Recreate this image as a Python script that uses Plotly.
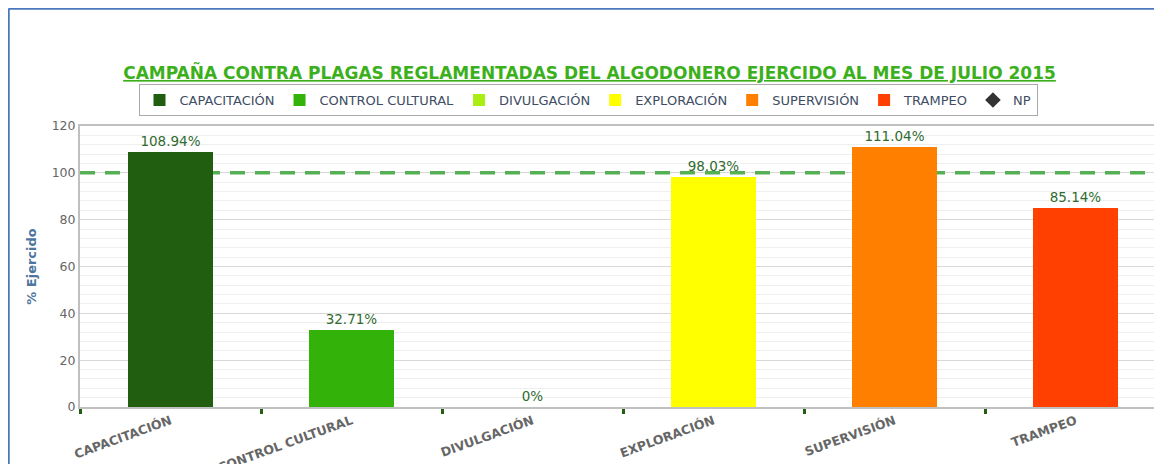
import plotly.graph_objects as go

categories = ["CAPACITACIÓN", "CONTROL CULTURAL", "DIVULGACIÓN", "EXPLORACIÓN", "SUPERVISIÓN", "TRAMPEO"]
values = [108.94, 32.71, 0, 98.03, 111.04, 85.14]
colors = ["#215e0f", "#33b20a", "#aaee11", "#ffff00", "#ff8000", "#ff4000"]
target = 100
y_ticks = [0, 20, 40, 60, 80, 100, 120]

FONT = "DejaVu Sans"
W, H = 1154, 456           # page adds an 8px body margin
ML, MR, MT, MB = 72, 0, 118, 57
PW, PH = W - ML - MR, H - MT - MB
CAT_PX = 181

fig = go.Figure()
# 100% reference line on the base axes (drawn beneath the bars)
fig.add_trace(go.Scatter(
    x=[0, 1], y=[target, target], mode="lines", showlegend=False, hoverinfo="skip",
    line=dict(color="#55b055", width=3.5, dash="15px,10px"), xaxis="x", yaxis="y",
))
for cat, val, col in zip(categories, values, colors):
    fig.add_trace(go.Bar(
        x=[cat], y=[val], name=cat, marker=dict(color=col, line=dict(width=0)),
        width=0.47, text=[f"{val:g}%"], textposition="outside",
        textfont=dict(family=FONT, size=13.5, color="#2f6b2f"), cliponaxis=False,
        xaxis="x2", yaxis="y2",
    ))
fig.add_trace(go.Scatter(
    x=[categories[0]], y=[None], name="NP", mode="markers",
    marker=dict(symbol="diamond", size=13, color="#333333"), xaxis="x2", yaxis="y2",
))

# outer chart frame: top and left edges of the figure
fx0 = -(ML - 0.5) / PW
fy0 = (PH + MT - 0.5) / PH
fig.add_shape(type="line", xref="paper", yref="paper", x0=fx0, x1=1.0, y0=fy0, y1=fy0,
              line=dict(color="#4a78be", width=2.5), layer="below")
fig.add_shape(type="line", xref="paper", yref="paper", x0=fx0, x1=fx0, y0=fy0, y1=-MB / PH,
              line=dict(color="#4a78be", width=2.5), layer="below")

fig.update_layout(
    width=W, height=H,
    margin=dict(l=ML, r=MR, t=MT, b=MB),
    paper_bgcolor="white", plot_bgcolor="white",
    barmode="overlay", bargap=0,
    font=dict(family=FONT),
    title=dict(
        text="<b><u>CAMPAÑA CONTRA PLAGAS REGLAMENTADAS DEL ALGODONERO EJERCIDO AL MES DE JULIO 2015</u></b>",
        font=dict(family=FONT, size=17, color="#3cb01c"),
        xref="container", x=581.5 / W, xanchor="center",
        yref="container", y=1 - 65 / H, yanchor="middle",
    ),
    legend=dict(
        orientation="h", xref="container", yref="container",
        x=580 / W, xanchor="center", y=1 - 76 / H, yanchor="top",
        bordercolor="#aaaaaa", borderwidth=1, bgcolor="white",
        font=dict(family=FONT, size=13, color="#3e4d63"),
        itemsizing="constant", itemwidth=30, tracegroupgap=0,
    ),
    xaxis=dict(range=[0, 1], visible=False, automargin=False, fixedrange=True),
    xaxis2=dict(
        overlaying="x", anchor="y2", side="bottom",
        type="category", categoryorder="array", categoryarray=categories,
        range=[-0.5, -0.5 + PW / CAT_PX], automargin=False,
        tickson="boundaries", ticks="outside", ticklen=5, tickwidth=3, tickcolor="#215e0f",
        tickangle=-20, tickfont=dict(family=FONT, size=12.5, color="#666666", weight="bold"),
        showgrid=False, showline=True, linecolor="#c0c0c0", linewidth=2, mirror=True,
    ),
    yaxis=dict(
        range=[0, 120], tickvals=y_ticks, ticks="", automargin=False,
        tickfont=dict(family=FONT, size=12.5, color="#666666"),
        showgrid=True, gridcolor="#d8d8d8", gridwidth=1,
        minor=dict(dtick=4, showgrid=True, gridcolor="#efefef", gridwidth=1),
        showline=True, linecolor="#c0c0c0", linewidth=2, mirror=False,
        zeroline=False,
        title=dict(text="<b>% Ejercido</b>", font=dict(family=FONT, size=13, color="#4d759e"), standoff=12),
    ),
    yaxis2=dict(overlaying="y", anchor="x2", range=[0, 120], visible=False,
                showgrid=False, zeroline=False, automargin=False),
)
fig.write_html("out.html")
